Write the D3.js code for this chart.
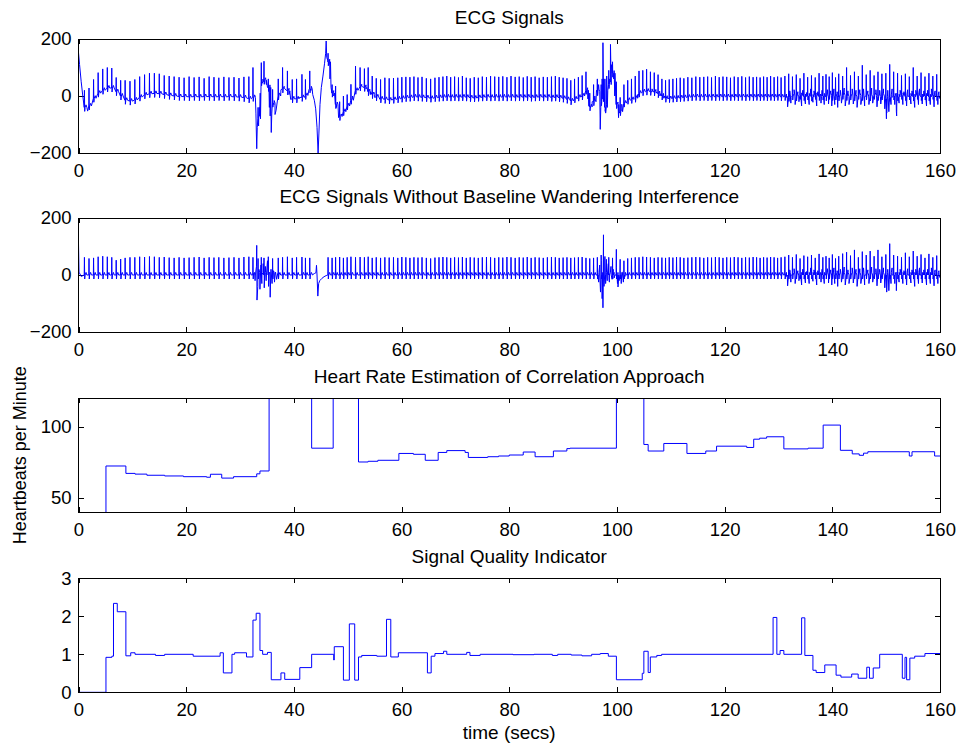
<!DOCTYPE html>
<html><head><meta charset="utf-8">
<script src="https://cdn.jsdelivr.net/npm/d3@7"></script>
<style>
html,body{margin:0;padding:0;background:#fff;}
svg{display:block;font-family:"Liberation Sans",Arial,Helvetica,sans-serif;}
</style></head><body>
<svg id="chart" width="959" height="744"></svg>
<script>
// ---------------- DATA ----------------
const xTicks = [0,20,40,60,80,100,120,140,160];
const ecgTicks = [-200,0,200];
const hrTicks = [50,100];
const sqiTicks = [0,1,2,3];
const titles = ["ECG Signals","ECG Signals Without Baseline Wandering Interference","Heart Rate Estimation of Correlation Approach","Signal Quality Indicator"];

// beats: [time (s), raw baseline, raw R-peak, filtered R-peak]
const ecgBeats = [
[1.1,-40,20,62],[1.95,-35,28,58],[2.8,-8,58,60],[3.65,10,82,64],[4.5,20,95,66],
[5.35,28,100,64],[6.18,28,98,62],[7.0,15,65,52],[7.83,0,55,56],[8.66,-15,55,60],
[9.56,-18,52,62],[10.46,-14,58,62],[11.36,-4,68,64],[12.27,4,75,63],[13.18,8,80,65],
[14.09,9,80,64],[15.0,8,78,62],[15.92,5,72,63],[16.84,2,70,61],[17.76,0,68,60],
[18.68,-2,66,62],[19.61,-2,64,60],[20.54,-3,68,61],[21.47,-2,65,62],[22.4,-3,67,63],
[23.33,-2,62,60],[24.26,-2,68,62],[25.16,-3,66,61],[26.06,-2,64,62],[27.0,-3,67,60],
[27.94,-2,65,61],[28.88,-3,66,62],[29.8,-4,63,60],[30.72,-6,67,63],[31.64,-10,68,64],
[32.4,-5,100,62],[33.35,-80,-40,58],[33.95,50,117,62],[34.45,55,122,60],[35.25,30,60,64],
[36.05,-25,23,58],[37.1,0,60,60],[37.9,25,100,62],[38.8,18,88,64],[39.7,-10,58,60],
[40.5,-10,60,62],[41.5,-5,76,63],[42.15,2,58,60],[42.95,25,88,60],[46.35,120,150,62],
[47.1,10,40,60],[47.75,-30,35,62],[48.5,-72,-20,63],[49.2,-55,0,60],[49.9,-35,5,62],
[50.6,-15,41,64],[51.45,20,105,62],[52.3,32,100,63],[53.1,30,96,62],[53.8,15,100,64],
[54.55,5,70,60],[55.3,-3,62,62],[56.1,-10,58,60],[56.9,-12,64,62],[57.7,-14,62,61],
[58.5,-12,63,62],[59.3,-10,64,60],[60.05,-8,66,63],[60.8,-6,67,62],[61.55,-5,66,60],
[62.3,-3,68,62],[63.05,-4,65,61],[63.8,-5,67,62],[64.6,-6,62,60],[65.4,-8,60,58],
[66.2,-6,64,61],[66.95,-5,66,62],[67.68,-4,68,63],[68.4,-3,70,62],[69.12,-4,66,60],
[69.85,-3,68,62],[70.57,-4,65,61],[71.3,-3,70,63],[72.02,-4,64,60],[72.75,-6,62,62],
[73.5,-7,66,61],[74.25,-5,64,60],[75.0,-4,68,62],[75.77,-3,66,63],[76.53,-4,70,62],
[77.3,-3,68,60],[78.05,-4,67,62],[78.8,-3,69,61],[79.57,-4,66,63],[80.33,-3,70,62],
[81.1,-4,67,60],[81.85,-3,68,62],[82.6,-4,65,61],[83.34,-3,69,63],[84.07,-5,66,60],
[84.8,-4,68,62],[85.56,-3,64,61],[86.32,-4,67,60],[87.08,-3,66,62],[87.84,-5,68,63],
[88.56,-4,70,62],[89.28,-6,66,60],[90.0,-8,64,61],[90.72,-12,62,62],[91.43,-17,55,60],
[92.13,-10,60,61],[92.84,-4,66,62],[93.54,0,72,63],[94.25,20,85,60],[94.95,-38,10,58],
[95.66,-20,40,60],[96.36,15,60,62],[97.07,-20,40,70],[97.77,-40,60,65],[98.48,40,90,62],
[99.18,80,120,60],[99.89,-30,50,90],[100.6,-55,-5,55],[101.3,-25,40,50],[102.0,-15,55,58],
[102.7,-12,60,60],[103.4,-8,70,62],[104.1,10,88,62],[104.8,15,90,64],[105.51,17,94,63],
[106.22,16,85,62],[106.93,14,82,60],[107.64,8,75,62],[108.35,0,60,61],[109.03,-8,55,60],
[109.71,-9,58,62],[110.39,-8,60,61],[111.07,-7,62,63],[111.75,-6,64,62],[112.43,-5,62,60],
[113.17,-4,66,61],[113.91,-3,64,62],[114.65,-2,68,63],[115.39,-3,66,62],[116.13,-2,67,60],
[116.85,-3,68,62],[117.57,-2,65,61],[118.29,-3,70,63],[118.99,-2,66,62],[119.69,-3,68,60],
[120.39,-2,67,62],[121.09,-3,64,61],[121.79,-2,68,63],[122.49,-3,66,62],[123.19,-2,69,60],
[123.89,-3,65,62],[124.59,-2,68,61],[125.29,-3,66,63],[125.94,-2,67,62],[126.59,-3,65,60],
[127.24,-2,68,62],[127.89,-3,66,61],[128.54,-2,70,63],[129.19,-3,66,62],[129.84,-2,68,60],
[130.49,-3,65,62],[131.19,-2,70,64],[131.9,-5,78,70],[132.6,0,68,62],[133.31,-3,75,72],
[134.01,2,62,58],[134.72,-2,80,68],[135.42,0,66,64],[136.13,-4,72,70],[136.83,2,65,60],
[137.54,-2,80,74],[138.24,0,70,62],[138.83,-3,76,66],[139.42,2,68,60],[140.01,-2,82,72],
[140.6,0,65,58],[141.19,-3,78,66],[141.92,2,70,75],[142.65,-2,100,80],[143.38,0,72,68],
[144.11,-3,85,88],[144.84,2,70,62],[145.57,-2,108,82],[146.3,0,75,70],[147.03,-3,90,84],
[147.76,2,72,66],[148.48,-2,85,88],[149.21,0,78,64],[149.94,-10,80,72],[150.66,-5,111,110],
[151.39,0,85,70],[152.12,-3,80,66],[152.85,2,72,62],[153.57,-2,78,78],[154.3,0,68,64],
[155.03,-3,100,84],[155.76,2,70,66],[156.48,-2,82,72],[157.21,0,68,60],[157.94,-3,80,74],
[158.67,2,70,62],[159.39,-2,76,68]
];

// raw-signal artifacts / baseline swings [time, value]
const rawArtifacts = [
[0,152],[0.2,110],[0.5,50],[0.8,0],[1.7,-53],
[32.6,-5],[32.8,0],[32.95,-60],[33.1,-185],[33.2,-110],[33.45,-105],[33.6,-40],[33.75,10],
[34.2,45],[34.6,58],[34.9,40],[35.1,30],[35.45,-40],[35.6,-70],[35.8,-128],[35.9,-60],
[36.3,-30],[36.5,-65],[36.7,-50],[37.3,10],[37.6,22],[38.2,28],[38.6,20],[39.1,5],[39.4,-12],
[40.1,-10],[41.0,-5],[41.8,0],[42.5,10],[42.8,22],[43.2,20],[43.5,5],[43.8,-15],[44.05,-45],
[44.3,-110],[44.5,-200],[44.65,-130],[44.85,-30],[45.1,30],[45.4,70],[45.7,115],[45.9,150],
[46.0,193],[46.1,135],[46.3,125],[46.5,110],[46.7,60],[46.9,30],[47.4,0],[47.9,-40],
[48.3,-76],[48.7,-68],[49.5,-45],[50.2,-25],[50.9,0],[51.8,25],[52.6,35],[53.4,25],[54.2,5],
[55.0,-5],[56.0,-12],
[93.9,10],[94.6,-10],[94.75,-35],[95.1,-41],[95.4,-20],[95.9,0],[96.2,20],[96.6,40],[96.9,-117],
[97.0,-40],[97.25,60],[97.4,187],[97.55,60],[97.7,-20],[97.9,-60],[98.1,70],[98.3,20],[98.65,60],
[98.8,181],[98.95,110],[99.4,60],[99.6,0],[100.0,-40],[100.3,-76],[100.45,-60],[100.9,-29],
[101.6,-20],[101.9,-17],[102.4,-12],[103.1,-10],[103.8,5],[104.5,12],[105.3,15],[106.5,14],
[107.3,10],[108.0,0],[108.7,-8],[109.4,-9],
[150.05,-80],[151.95,-70]
];

// filtered-signal artifacts [time, value]
const filteredArtifacts = [
[0,110],[0.1,10],[0.5,-5],
[32.5,5],[32.8,-20],[33.05,30],[33.1,104],[33.15,-88],[33.3,-40],[33.5,20],[33.7,-50],[33.9,35],
[34.05,-30],[34.3,40],[34.5,-45],[34.7,30],[34.85,-20],[35.1,50],[35.3,-40],[35.5,10],[35.6,-78],
[35.75,20],[35.95,-30],[36.2,15],[36.4,-25],[36.6,10],[36.8,-15],[37.0,5],
[43.4,3],[43.8,5],[44.1,8],[44.2,34],[44.3,0],[44.45,-74],[44.6,-30],[44.8,-20],[45.2,-12],
[45.6,-6],[46.0,-2],
[96.4,10],[96.6,-25],[96.8,35],[96.95,-60],[97.1,50],[97.25,-83],[97.4,-115],[97.5,141],
[97.6,-40],[97.75,60],[97.9,-30],[98.05,55],[98.2,-20],[98.4,40],[98.6,-25],[98.9,30],
[99.1,-15],[99.3,20],[99.5,-10],[99.9,25],[100.1,-30],[100.2,-42],[100.4,-20],[100.6,15],
[100.8,-30],[101.0,10],[101.2,-25],[101.5,-5]
];

// noisy segment after 131 s (present in both signals) [time, value]
const noiseSegment = [
[131.5,-5],[131.7,-38],[132.1,18],[132.3,-25],[132.9,22],[133.1,-30],[133.6,15],[133.8,-20],
[134.3,-35],[134.5,20],[135.0,-28],[135.2,12],[135.7,-30],[136.0,25],[136.4,-22],[136.6,18],
[137.1,-35],[137.3,15],[137.9,-25],[138.1,20],[138.5,-30],[139.1,22],[139.3,-28],[139.7,18],
[139.9,-35],[140.3,25],[140.45,-30],[140.9,15],[141.0,-40],[141.5,20],[141.7,-25],[142.2,28],
[142.4,-35],[142.9,18],[143.1,-30],[143.7,25],[143.9,-28],[144.4,20],[144.6,-40],[145.1,22],
[145.3,-30],[145.8,25],[146.0,-35],[146.6,18],[146.8,-30],[147.3,28],[147.5,-25],[148.1,22],
[148.3,-38],[148.8,20],[149.0,-28],[149.5,25],[149.75,-45],[150.1,-60],[150.3,20],[150.5,-55],
[150.9,-30],[151.1,25],[151.6,-30],[151.9,-55],[152.0,10],[152.4,-25],[152.6,20],[153.1,-30],
[153.3,15],[153.8,-35],[154.0,22],[154.6,-28],[154.8,18],[155.3,-40],[155.5,20],[156.0,-30],
[156.2,25],[156.7,-28],[157.0,18],[157.5,-35],[157.7,20],[158.2,-30],[158.4,25],[158.9,-38],
[159.1,18],[159.6,-30],[159.8,15],[160,-10]
];

// heart rate (bpm), step changes [time, value]
const heartRate = [
[0,0],[5.1,72.5],[8.8,67.3],[10.5,66.8],[12.7,66],[16,65.5],[19.5,65],[23.8,64.6],[24.5,66.7],
[26.6,64],[28.8,65],[33.1,67],[33.7,69],[35.4,200],[43.3,85],[47.3,200],[52,75.3],[53.8,75.8],
[55.6,76.5],[59.5,81.3],[62.2,80.7],[64.4,76.5],[66.8,82],[68.4,83.3],[71.8,82],[72.4,78.5],
[76,79],[78,79.5],[80,80.2],[82.6,82.3],[84.8,79],[88.2,83],[90.7,84.7],[91.3,85],[99.9,200],
[105,87.6],[105.8,83],[108.7,88.3],[113,81.3],[116.5,83],[118.5,86.4],[124.1,85.5],[125.4,91.3],
[126.5,92],[127.8,93],[131,84.5],[135.5,85],[138.3,101.2],[141.5,83.5],[143.7,81],[145,80],
[145.8,81.5],[146.6,82.5],[154.3,79.5],[154.8,82.5],[159,79.5],[160,79.5]
];

// signal quality indicator, step changes [time, value]
const signalQuality = [
[0,0],[5.1,0.92],[6.2,0.95],[6.5,2.34],[7.2,2.12],[8.8,0.96],[9.7,1.04],[10.5,1.0],[14.3,0.97],
[16,1.0],[21.3,0.95],[26.3,1.04],[26.9,0.51],[28.5,1.0],[29,1.04],[31.2,0.93],[32.4,1.9],[33,2.08],
[33.7,1.1],[34.2,1.0],[35.1,1.05],[35.8,0.33],[37.6,0.51],[38.3,0.34],[41.1,0.65],[43.3,1.0],
[47.4,0.85],[47.5,1.2],[49.2,0.32],[50.3,1.8],[51.3,0.32],[52,0.93],[52.6,0.97],[55.4,0.95],
[57.2,1.92],[58,0.93],[59.4,1.04],[64.8,0.51],[65.5,0.95],[66.2,1.02],[67.8,1.08],[68.4,1.0],
[72.1,1.05],[72.7,0.97],[74.6,1.0],[80.7,0.99],[84.6,1.0],[88,0.97],[89,1.0],[91.5,0.98],
[93.5,0.96],[95.3,1.0],[96.9,1.02],[98.4,0.95],[99.9,0.33],[104.7,0.5],[105,1.08],[105.8,0.52],
[106.2,0.93],[107.4,0.97],[108.3,1.0],[129,1.97],[129.7,1.0],[130.3,1.1],[131,1.0],[134.3,1.96],
[134.9,0.97],[136.4,0.58],[137,0.52],[138.6,0.72],[140.7,0.45],[141.6,0.4],[143.6,0.48],
[144.8,0.37],[146.4,0.66],[146.9,0.37],[147.6,0.64],[148.8,1.0],[153,0.37],[153.5,0.92],
[153.8,0.33],[154.4,0.9],[155.3,0.95],[157.2,1.02],[160,1.0]
];

// ---------------- DRAWING ----------------
const svg = d3.select("#chart");
const left = 78.5, right = 940, plotH = 114;
const tops = [39, 218, 398.3, 578.3];
const TICK_FONT = 18.5, LABEL_FONT = 19;
const x = d3.scaleLinear().domain([0,160]).range([left,right]);

// QRS shape offsets used to draw each beat from its table row
function beatPoints(rows, baseIdx, peakIdx) {
  const pts = [];
  rows.forEach(r => {
    const t = r[0], b = baseIdx === null ? 0 : r[baseIdx], p = r[peakIdx];
    pts.push([t-0.04,b],[t,p],[t+0.05,b-14],[t+0.12,b],[t+0.3,b+9],[t+0.45,b]);
  });
  return pts;
}

function panel(i, yDomain, yTicks, yFmt) {
  const top = tops[i];
  const y = d3.scaleLinear().domain(yDomain).range([top+plotH, top]);
  const g = svg.append("g");
  svg.append("clipPath").attr("id","clip"+i).append("rect")
    .attr("x",left).attr("y",top).attr("width",right-left).attr("height",plotH);
  const axes = g.append("g");
  const style = a => {
    a.attr("font-size",TICK_FONT).attr("font-family",null);
    a.select(".domain").remove();
    a.selectAll("line").attr("stroke","#000").attr("shape-rendering","crispEdges");
    a.selectAll("text").attr("fill","#000");
  };
  axes.append("g").attr("transform",`translate(0,${top+plotH})`)
    .call(d3.axisBottom(x).tickValues(xTicks).tickSize(-5).tickSizeOuter(0).tickPadding(11).tickFormat(d3.format("d")))
    .call(style);
  axes.append("g").attr("transform",`translate(0,${top})`)
    .call(d3.axisTop(x).tickValues(xTicks).tickSize(-5).tickSizeOuter(0).tickFormat(""))
    .call(style);
  axes.append("g").attr("transform",`translate(${left},0)`)
    .call(d3.axisLeft(y).tickValues(yTicks).tickSize(-5).tickSizeOuter(0).tickPadding(7).tickFormat(yFmt))
    .call(style);
  axes.append("g").attr("transform",`translate(${right},0)`)
    .call(d3.axisRight(y).tickValues(yTicks).tickSize(-5).tickSizeOuter(0).tickFormat(""))
    .call(style);
  svg.append("text").attr("x",(left+right)/2).attr("y",top-15.5)
    .attr("text-anchor","middle").attr("font-size",LABEL_FONT).attr("fill","#000").text(titles[i]);
  return {g, y, top};
}

const fmtSigned = d => d < 0 ? "\u2212" + Math.abs(d) : String(d);

function drawLine(p, data, curve, id) {
  const line = d3.line().x(d => x(d[0])).y(d => p.y(d[1])).curve(curve);
  p.g.append("path").datum(data)
    .attr("clip-path",`url(#clip${id})`)
    .attr("fill","none").attr("stroke","#0000ff").attr("stroke-width",1)
    .attr("stroke-linejoin","round").attr("d",line);
}
function drawBox(p) {
  p.g.append("rect").attr("x",left).attr("y",p.top).attr("width",right-left).attr("height",plotH)
    .attr("fill","none").attr("stroke","#000").attr("stroke-width",1).attr("shape-rendering","crispEdges");
}

// Panel 1: raw ECG
const p1 = panel(0, [-200,200], ecgTicks, fmtSigned);
const raw = beatPoints(ecgBeats, 1, 2).concat(rawArtifacts, noiseSegment)
  .filter(d => d[0] >= 0 && d[0] <= 160).sort((a,b) => a[0]-b[0]);
drawLine(p1, raw, d3.curveLinear, 0); drawBox(p1);

// Panel 2: filtered ECG
const p2 = panel(1, [-200,200], ecgTicks, fmtSigned);
const filt = beatPoints(ecgBeats, null, 3).concat(filteredArtifacts, noiseSegment)
  .filter(d => d[0] >= 0 && d[0] <= 160).sort((a,b) => a[0]-b[0]);
drawLine(p2, filt, d3.curveLinear, 1); drawBox(p2);

// Panel 3: heart rate
const p3 = panel(2, [40,120], hrTicks, d3.format("d"));
drawLine(p3, heartRate, d3.curveStepAfter, 2); drawBox(p3);

// Panel 4: signal quality
const p4 = panel(3, [0,3], sqiTicks, d3.format("d"));
drawLine(p4, signalQuality, d3.curveStepAfter, 3); drawBox(p4);

// axis labels
svg.append("text").attr("transform",`translate(26,${tops[2]+plotH/2}) rotate(-90)`)
  .attr("text-anchor","middle").attr("font-size",18).attr("fill","#000").text("Heartbeats per Minute");
svg.append("text").attr("x",(left+right)/2).attr("y",739)
  .attr("text-anchor","middle").attr("font-size",LABEL_FONT).attr("fill","#000").text("time (secs)");
</script></body></html>
